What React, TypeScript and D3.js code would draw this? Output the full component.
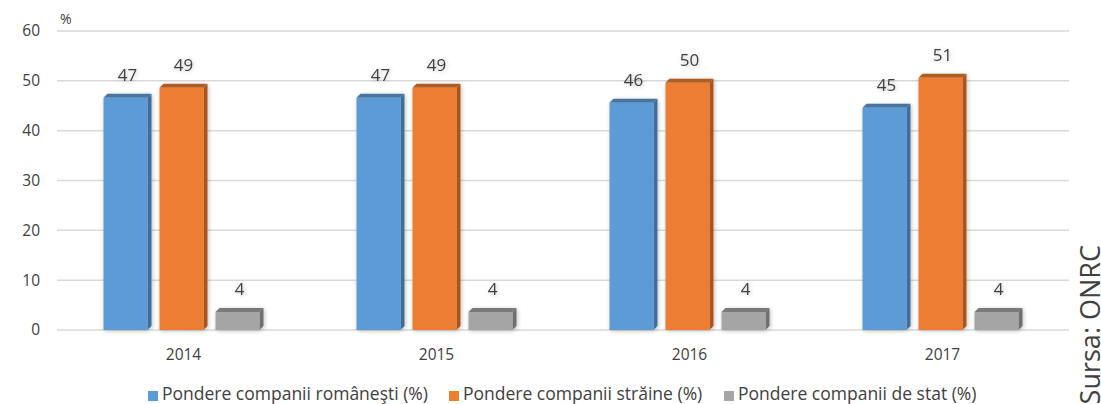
import React from "react";
import * as d3 from "d3";

const years = ["2014", "2015", "2016", "2017"];
const seriesNames = [
  "Pondere companii româneşti (%)",
  "Pondere companii străine (%)",
  "Pondere companii de stat (%)",
];
const romanesti = [47, 47, 46, 45];
const straine = [49, 49, 50, 51];
const deStat = [4, 4, 4, 4];
const yTicks = [0, 10, 20, 30, 40, 50, 60];

const frontColors = ["#5B9BD5", "#ED7D31", "#A5A5A5"];
const sideColors = ["#3F6E9B", "#A9571F", "#6F6F6F"];
const topColors = ["#46759F", "#B05C22", "#7A7A7A"];
const textColor = "#404040";
const font = "'Open Sans', sans-serif";

export default function App() {
  const W = 1101, H = 404;
  const left = 57, right = 1069, top = 31, bottom = 330;
  const x = d3.scaleBand<string>().domain(years).range([left, right]).paddingInner(0).paddingOuter(0);
  const y = d3.scaleLinear().domain([0, 60]).range([bottom, top]);
  const series = [romanesti, straine, deStat];
  const barW = 44, step = 56, depth = 4;

  return (
    <svg width={W} height={H} style={{ position: "absolute", left: 0, top: 0, fontFamily: font }}>
      <defs>
        <filter id="sh" x="-20%" y="-20%" width="140%" height="140%">
          <feGaussianBlur in="SourceAlpha" stdDeviation="2" />
          <feOffset dx="1" dy="1" result="b" />
          <feComponentTransfer><feFuncA type="linear" slope="0.25" /></feComponentTransfer>
          <feMerge><feMergeNode /><feMergeNode in="SourceGraphic" /></feMerge>
        </filter>
      </defs>
      <rect width={W} height={H} fill="#fff" />
      {yTicks.map((t) => (
        <g key={t}>
          <line x1={left} x2={right} y1={y(t)} y2={y(t)} stroke="#D9D9D9" strokeWidth={1.5} />
          <text x={40} y={y(t)} dy="0.35em" textAnchor="end" fontSize={15.5} fill={textColor}>{t}</text>
        </g>
      ))}
      <text x={60} y={24} fontSize={14} fill={textColor}>%</text>
      {years.map((yr, i) => {
        const cx = x(yr)! + x.bandwidth() / 2;
        return (
          <g key={yr}>
            {series.map((s, k) => {
              const x0 = cx - step - barW / 2 + k * step - 2;
              const v = s[i];
              const yt = y(v) + depth / 2;
              const yb = bottom;
              return (
                <g key={k} filter="url(#sh)">
                  <polygon
                    points={`${x0 + barW},${yt} ${x0 + barW + depth},${yt - depth} ${x0 + barW + depth},${yb - depth} ${x0 + barW},${yb}`}
                    fill={sideColors[k]}
                  />
                  <polygon
                    points={`${x0},${yt} ${x0 + depth},${yt - depth} ${x0 + barW + depth},${yt - depth} ${x0 + barW},${yt}`}
                    fill={topColors[k]}
                  />
                  <rect x={x0} y={yt} width={barW} height={yb - yt} fill={frontColors[k]} />
                  <text x={x0 + barW / 2 + 2} y={y(v) - 15} textAnchor="middle" fontSize={17} fill={textColor}>{v}</text>
                </g>
              );
            })}
            <text x={cx} y={360} textAnchor="middle" fontSize={15.5} fill={textColor}>{yr}</text>
          </g>
        );
      })}
      {seriesNames.map((n, k) => {
        const lx = [148, 449, 724][k];
        return (
          <g key={n}>
            <rect x={lx} y={391} width={10} height={10} fill={frontColors[k]} />
            <text x={lx + 14} y={400} fontSize={17.5} fill={textColor}>{n}</text>
          </g>
        );
      })}
      <text
        transform={`translate(1100,245) rotate(-90)`}
        textAnchor="end"
        fontSize={27}
        fill={textColor}
      >
        Sursa: ONRC
      </text>
    </svg>
  );
}
